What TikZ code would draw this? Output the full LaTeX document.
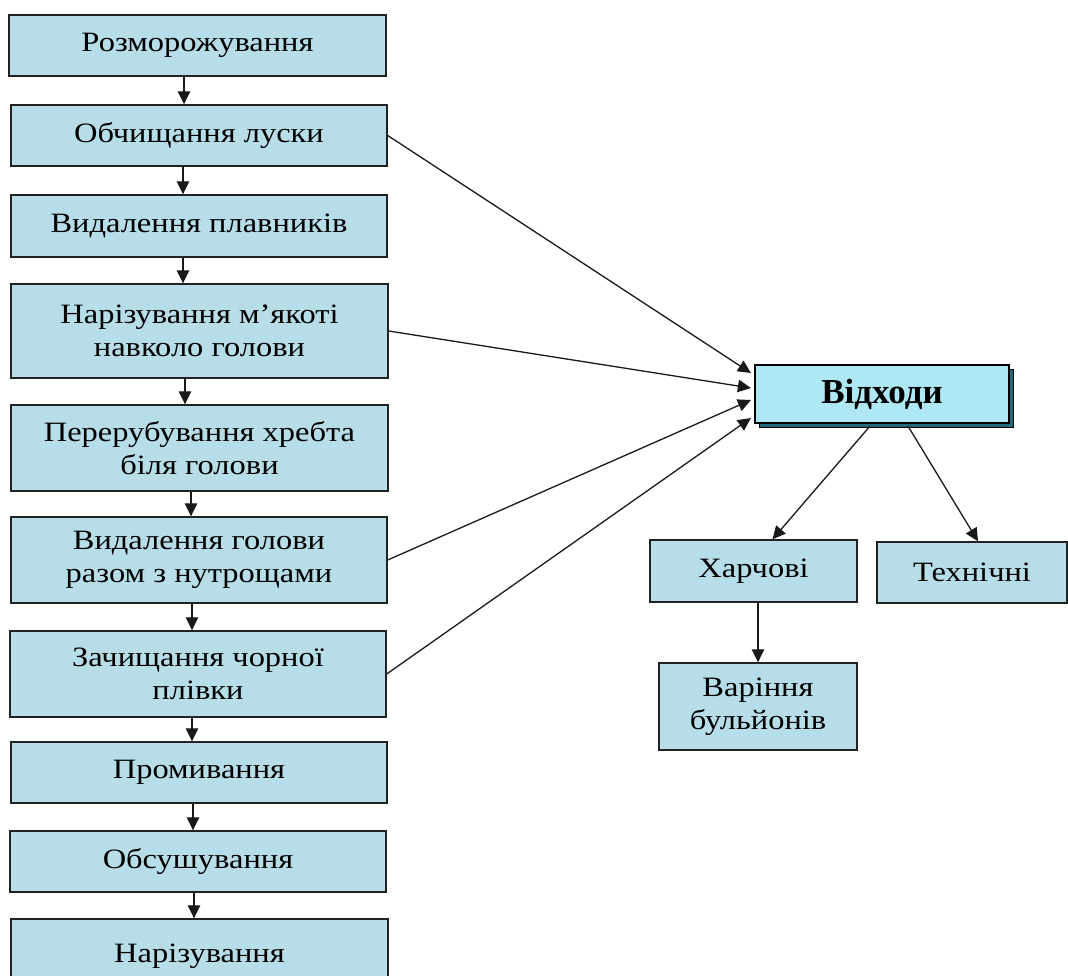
\documentclass[tikz,border=0pt]{standalone}
\usepackage{fontspec}
\setmainfont[FakeStretch=1.16]{Liberation Serif}
\newfontfamily\keyfont{Liberation Serif}
\usetikzlibrary{arrows.meta}
\definecolor{boxfill}{HTML}{B7DDE8}
\definecolor{keyfill}{HTML}{AEE8F5}
\definecolor{keyshade}{HTML}{236B7C}
\definecolor{boxedge}{HTML}{222222}
\begin{document}
\begin{tikzpicture}[x=1pt,y=-1pt,
  stepbox/.style={draw=boxedge, line width=1.4pt, fill=boxfill, inner sep=0pt,
    align=center, text=black, font=\fontsize{28}{33}\selectfont},
  keybox/.style={draw=black, line width=2.2pt, fill=keyfill, inner sep=0pt,
    text=black, font=\keyfont\bfseries\fontsize{35}{40}\selectfont},
  arr/.style={draw=black!90, line width=1.3pt, -{Triangle[length=13pt,width=12.5pt]}},
]
\useasboundingbox (0,0) rectangle (1068,976);

% process steps, left column
\node[stepbox, minimum width=377, minimum height=61] (b1) at (197.5,45.5) {Розморожування};
\node[stepbox, minimum width=376, minimum height=61] (b2) at (199,135.5) {Обчищання луски};
\node[stepbox, minimum width=376, minimum height=62] (b3) at (199,226) {Видалення плавників};
\node[stepbox, minimum width=377, minimum height=94] (b4) at (199.5,331) {Нарізування м’якоті\\навколо голови};
\node[stepbox, minimum width=377, minimum height=86] (b5) at (199.5,448) {Перерубування хребта\\біля голови};
\node[stepbox, minimum width=376, minimum height=86] (b6) at (199,560) {Видалення голови\\разом з нутрощами};
\node[stepbox, minimum width=376, minimum height=86] (b7) at (198,674) {Зачищання чорної\\плівки};
\node[stepbox, minimum width=376, minimum height=61] (b8) at (199,772.5) {Промивання};
\node[stepbox, minimum width=376, minimum height=61] (b9) at (198,861.5) {Обсушування};
\node[stepbox, minimum width=377, minimum height=75] (b10) at (199.5,956.5) {Нарізування};

% waste box with its shadow
\fill[keyshade, draw=black, line width=1pt] (759,369) rectangle (1013,427);
\node[keybox, minimum width=254, minimum height=58] (w) at (882,394) {Відходи};

% waste branches
\node[stepbox, minimum width=207, minimum height=62] (food) at (753.5,571) {Харчові};
\node[stepbox, minimum width=190, minimum height=61] (tech) at (972,572.5) {Технічні};
\node[stepbox, minimum width=198, minimum height=87] (broth) at (758,706.5) {Варіння\\бульйонів};

% flow down the left column
\draw[arr] ([xshift=-13.5]b1.south) -- ([xshift=-13.5]b1.south |- b2.north);
\draw[arr] ([xshift=-16]b2.south) -- ([xshift=-16]b2.south |- b3.north);
\draw[arr] ([xshift=-16]b3.south) -- ([xshift=-16]b3.south |- b4.north);
\draw[arr] ([xshift=-14.5]b4.south) -- ([xshift=-14.5]b4.south |- b5.north);
\draw[arr] ([xshift=-8.5]b5.south) -- ([xshift=-8.5]b5.south |- b6.north);
\draw[arr] ([xshift=-7]b6.south) -- ([xshift=-7]b6.south |- b7.north);
\draw[arr] ([xshift=-6]b7.south) -- ([xshift=-6]b7.south |- b8.north);
\draw[arr] ([xshift=-6]b8.south) -- ([xshift=-6]b8.south |- b9.north);
\draw[arr] ([xshift=-4]b9.south) -- ([xshift=-4]b9.south |- b10.north);

% steps that give waste
\draw[arr] (b2.east) -- ([xshift=-3,yshift=21]w.west);
\draw[arr] (b4.east) -- ([xshift=-3,yshift=6]w.west);
\draw[arr] (b6.east) -- ([xshift=-3,yshift=-6]w.west);
\draw[arr] (b7.east) -- ([xshift=-3,yshift=-24]w.west);

% kinds of waste
\draw[arr] ([xshift=-12,yshift=-2]w.south) -- ([xshift=19]food.north);
\draw[arr] ([xshift=26,yshift=-2]w.south) -- ([xshift=6]tech.north);
\draw[arr] (broth.north |- food.south) -- (broth.north);
\end{tikzpicture}
\end{document}
